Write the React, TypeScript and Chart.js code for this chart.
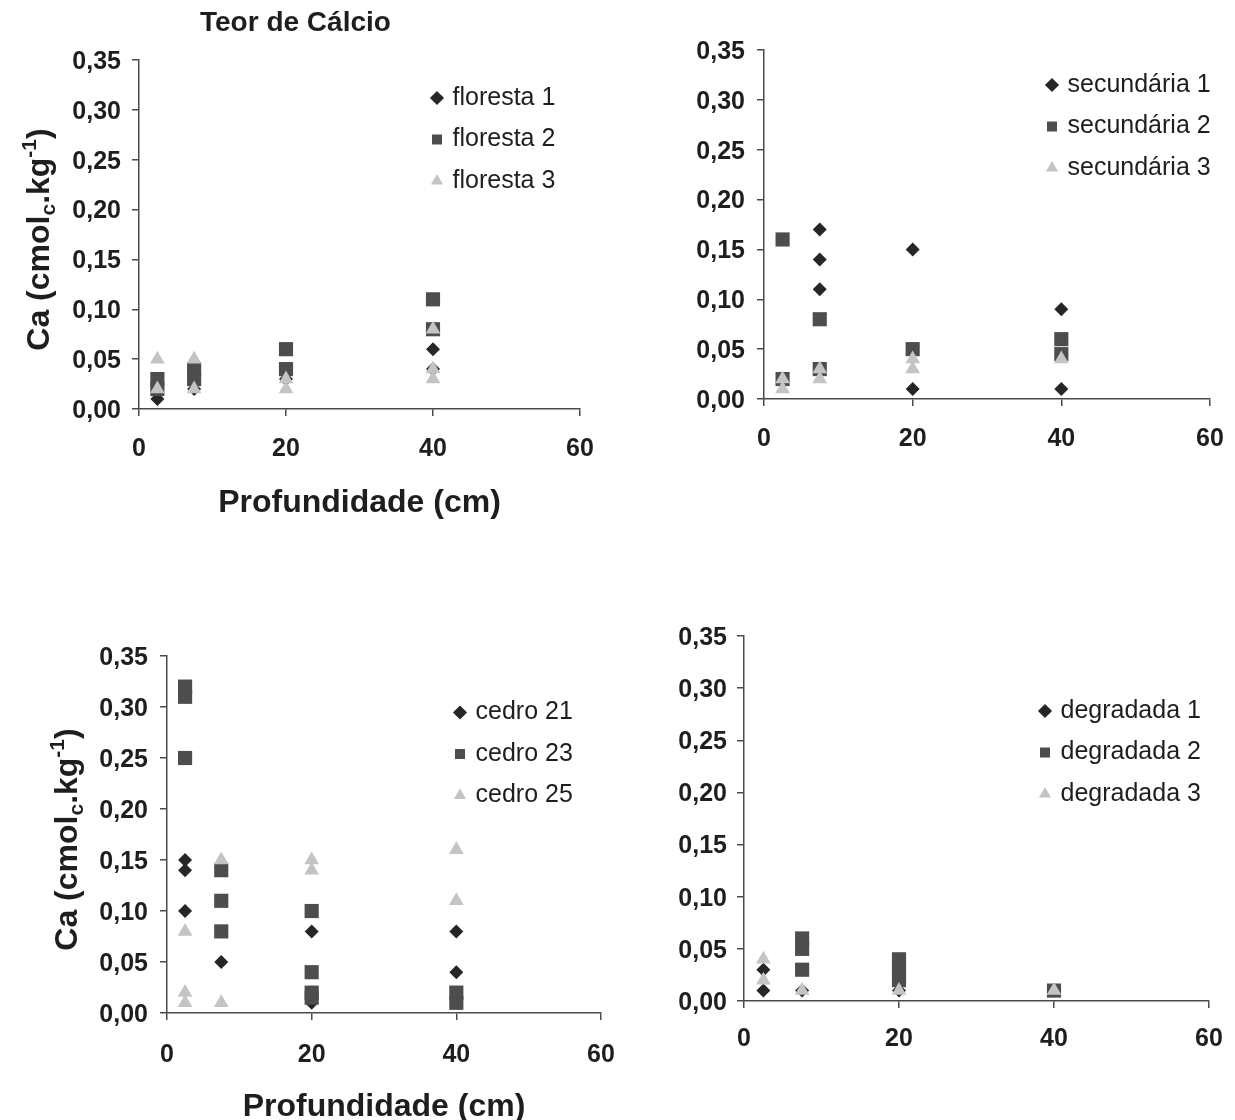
import { useEffect, useRef } from 'react';
import { Chart, registerables } from 'chart.js';

Chart.register(...registerables);

const FONT = "'Liberation Sans', Arial, Helvetica, sans-serif";
const TEXT_COLOR = '#1e1e1e';
const AXIS_COLOR = '#4a4a4a';

// ---------- axes / tick labels ----------
const yMin = 0;
const yMax = 0.35;
const yStep = 0.05;
const xMin = 0;
const xMax = 60;
const xStep = 20;
const xAxisTitle = 'Profundidade (cm)';
const chartTitle = 'Teor de Cálcio';

// ---------- panel 1: floresta ----------
const florestaLabels = ['floresta 1', 'floresta 2', 'floresta 3'];
const floresta1Depth = [2.5, 7.5, 20, 40, 40];
const floresta1Ca = [0.01, 0.02, 0.03, 0.06, 0.04];
const floresta2Depth = [2.5, 2.5, 7.5, 7.5, 20, 20, 40, 40];
const floresta2Ca = [0.03, 0.02, 0.04, 0.03, 0.06, 0.04, 0.11, 0.08];
const floresta3Depth = [2.5, 2.5, 7.5, 7.5, 20, 20, 40, 40, 40];
const floresta3Ca = [0.05, 0.02, 0.05, 0.02, 0.03, 0.02, 0.08, 0.04, 0.03];

// ---------- panel 2: secundária ----------
const secundariaLabels = ['secundária 1', 'secundária 2', 'secundária 3'];
const secundaria1Depth = [7.5, 7.5, 7.5, 20, 20, 40, 40];
const secundaria1Ca = [0.17, 0.14, 0.11, 0.15, 0.01, 0.09, 0.01];
const secundaria2Depth = [2.5, 2.5, 7.5, 7.5, 20, 40, 40];
const secundaria2Ca = [0.16, 0.02, 0.08, 0.03, 0.05, 0.06, 0.045];
const secundaria3Depth = [2.5, 2.5, 7.5, 7.5, 20, 20, 40];
const secundaria3Ca = [0.02, 0.01, 0.03, 0.02, 0.04, 0.03, 0.04];

// ---------- panel 3: cedro ----------
const cedroLabels = ['cedro 21', 'cedro 23', 'cedro 25'];
const cedro21Depth = [2.5, 2.5, 2.5, 7.5, 20, 20, 40, 40];
const cedro21Ca = [0.15, 0.14, 0.1, 0.05, 0.08, 0.01, 0.08, 0.04];
const cedro23Depth = [2.5, 2.5, 2.5, 7.5, 7.5, 7.5, 20, 20, 20, 20, 40, 40];
const cedro23Ca = [0.32, 0.31, 0.25, 0.14, 0.11, 0.08, 0.1, 0.04, 0.02, 0.015, 0.02, 0.01];
const cedro25Depth = [2.5, 2.5, 2.5, 7.5, 7.5, 20, 20, 40, 40];
const cedro25Ca = [0.08, 0.02, 0.01, 0.15, 0.01, 0.15, 0.14, 0.16, 0.11];

// ---------- panel 4: degradada ----------
const degradadaLabels = ['degradada 1', 'degradada 2', 'degradada 3'];
const degradada1Depth = [2.5, 2.5, 7.5, 20, 40];
const degradada1Ca = [0.03, 0.01, 0.01, 0.01, 0.01];
const degradada2Depth = [7.5, 7.5, 7.5, 20, 20, 20, 40];
const degradada2Ca = [0.06, 0.05, 0.03, 0.04, 0.03, 0.02, 0.01];
const degradada3Depth = [2.5, 2.5, 7.5, 20, 40];
const degradada3Ca = [0.04, 0.02, 0.01, 0.01, 0.01];

// ---------- marker styles (series 1, 2, 3) ----------
const MARKERS = [
  { style: 'rectRot', radius: 7, fill: '#262626' },
  { style: 'rect', radius: 10, fill: '#4d4d4d' },
  { style: 'triangle', radius: 8.5, fill: '#c4c4c4' },
];

type Series = { label: string; x: number[]; y: number[] };
type Spec = {
  left: number; top: number; w: number; h: number;
  pad: { left: number; top: number; right: number; bottom: number };
  yW: number; xH: number; xTickPad: number; yTickPad: number;
  legend: { x: number; y: number };
  xTitle: boolean; xTitlePad: number; yTitle: boolean; title: boolean;
  series: Series[];
};

const mk = (labels: string[], xs: number[][], ys: number[][]): Series[] =>
  labels.map((label, i) => ({ label, x: xs[i], y: ys[i] }));

const PANELS: Spec[] = [
  {
    left: 0, top: 0, w: 617, h: 560,
    pad: { left: 0, top: 60, right: 37, bottom: 31 },
    yW: 139, xH: 120, xTickPad: 18, yTickPad: 11,
    legend: { x: 437, y: 98 },
    xTitle: true, xTitlePad: 13, yTitle: true, title: true,
    series: mk(florestaLabels, [floresta1Depth, floresta2Depth, floresta3Depth], [floresta1Ca, floresta2Ca, floresta3Ca]),
  },
  {
    left: 617, top: 0, w: 618, h: 560,
    pad: { left: 0, top: 50, right: 25, bottom: 101 },
    yW: 147, xH: 60, xTickPad: 18, yTickPad: 12,
    legend: { x: 435, y: 85 },
    xTitle: false, xTitlePad: 0, yTitle: false, title: false,
    series: mk(secundariaLabels, [secundaria1Depth, secundaria2Depth, secundaria3Depth], [secundaria1Ca, secundaria2Ca, secundaria3Ca]),
  },
  {
    left: 0, top: 560, w: 617, h: 560,
    pad: { left: 0, top: 96, right: 16, bottom: 0 },
    yW: 167, xH: 107, xTickPad: 20, yTickPad: 12,
    legend: { x: 460, y: 152.5 },
    xTitle: true, xTitlePad: 0, yTitle: true, title: false,
    series: mk(cedroLabels, [cedro21Depth, cedro23Depth, cedro25Depth], [cedro21Ca, cedro23Ca, cedro25Ca]),
  },
  {
    left: 617, top: 560, w: 618, h: 560,
    pad: { left: 0, top: 76, right: 26, bottom: 59 },
    yW: 127, xH: 60, xTickPad: 16, yTickPad: 10,
    legend: { x: 428, y: 151 },
    xTitle: false, xTitlePad: 0, yTitle: false, title: false,
    series: mk(degradadaLabels, [degradada1Depth, degradada2Depth, degradada3Depth], [degradada1Ca, degradada2Ca, degradada3Ca]),
  },
];

const LEGEND_FONT = 25;
const LEGEND_BOX_W = 6;
const LEGEND_BOX_H = 10;
const LEGEND_PAD = 16.5;

function drawYTitle(ctx: CanvasRenderingContext2D, cx: number, cy: number) {
  const big = `bold 32px ${FONT}`;
  const small = `bold 21px ${FONT}`;
  const parts = [
    { t: 'Ca (cmol', f: big, dy: 0 },
    { t: 'c', f: small, dy: 6 },
    { t: '.kg', f: big, dy: 0 },
    { t: '-1', f: small, dy: -13 },
    { t: ')', f: big, dy: 0 },
  ];
  ctx.save();
  let total = 0;
  const widths = parts.map((p) => {
    ctx.font = p.f;
    const w = ctx.measureText(p.t).width;
    total += w;
    return w;
  });
  ctx.translate(cx, cy);
  ctx.rotate(-Math.PI / 2);
  ctx.fillStyle = TEXT_COLOR;
  ctx.textBaseline = 'alphabetic';
  ctx.textAlign = 'left';
  let x = -total / 2;
  parts.forEach((p, i) => {
    ctx.font = p.f;
    ctx.fillText(p.t, x, 11 + p.dy);
    x += widths[i];
  });
  ctx.restore();
}

function buildConfig(spec: Spec): any {
  const datasets = spec.series.map((s, i) => ({
    label: s.label,
    data: s.x.map((x, j) => ({ x, y: s.y[j] })),
    pointStyle: MARKERS[i].style,
    pointRadius: MARKERS[i].radius,
    pointHoverRadius: MARKERS[i].radius,
    backgroundColor: MARKERS[i].fill,
    borderColor: MARKERS[i].fill,
    borderWidth: 0,
    showLine: false,
    order: 3 - i,
  }));

  const tickFont = { family: FONT, size: 25, weight: 'bold' as const };
  const gridOpts = {
    display: true,
    drawOnChartArea: false,
    drawTicks: true,
    tickLength: 7,
    color: AXIS_COLOR,
    lineWidth: 1.5,
  };

  const decor = {
    id: 'decor',
    afterLayout(chart: any) {
      const lg = chart.legend;
      if (lg) {
        lg.left = spec.legend.x - LEGEND_BOX_W / 2 - LEGEND_PAD;
        lg.top = spec.legend.y - LEGEND_PAD - LEGEND_FONT / 2;
        lg.right = chart.width;
        lg.bottom = chart.height;
        lg.width = lg.right - lg.left;
        lg.height = lg.bottom - lg.top;
      }
    },
    afterDraw(chart: any) {
      const ctx: CanvasRenderingContext2D = chart.ctx;
      const area = chart.chartArea;
      if (spec.title) {
        ctx.save();
        ctx.font = `bold 28px ${FONT}`;
        ctx.fillStyle = TEXT_COLOR;
        ctx.textAlign = 'left';
        ctx.textBaseline = 'middle';
        ctx.fillText(chartTitle, area.left + 61, 23);
        ctx.restore();
      }
      if (spec.yTitle) {
        drawYTitle(ctx, area.left - 101, (area.top + area.bottom) / 2 + 5);
      }
    },
  };

  return {
    type: 'scatter',
    data: { datasets },
    options: {
      animation: false,
      responsive: false,
      devicePixelRatio: 1,
      events: [],
      layout: { padding: spec.pad },
      plugins: {
        legend: {
          display: true,
          position: 'chartArea',
          align: 'start',
          labels: {
            usePointStyle: true,
            boxWidth: LEGEND_BOX_W,
            boxHeight: LEGEND_BOX_H,
            padding: LEGEND_PAD,
            color: TEXT_COLOR,
            font: { family: FONT, size: LEGEND_FONT },
            sort: (a: any, b: any) => a.datasetIndex - b.datasetIndex,
          },
        },
        title: { display: false },
        tooltip: { enabled: false },
      },
      scales: {
        x: {
          type: 'linear',
          position: 'bottom',
          min: xMin,
          max: xMax,
          ticks: {
            stepSize: xStep,
            font: tickFont,
            color: TEXT_COLOR,
            padding: spec.xTickPad,
            maxRotation: 0,
            autoSkip: false,
          },
          grid: gridOpts,
          border: { display: true, color: AXIS_COLOR, width: 1.5 },
          title: {
            display: spec.xTitle,
            text: xAxisTitle,
            color: TEXT_COLOR,
            font: { family: FONT, size: 32, weight: 'bold', lineHeight: 0.8 },
            padding: { top: 0, bottom: spec.xTitlePad },
          },
          afterFit: (s: any) => {
            s.height = spec.xH;
            s.paddingLeft = 0;
            s.paddingRight = 0;
          },
        },
        y: {
          type: 'linear',
          position: 'left',
          min: yMin,
          max: yMax,
          ticks: {
            stepSize: yStep,
            font: tickFont,
            color: TEXT_COLOR,
            padding: spec.yTickPad,
            labelOffset: 2,
            autoSkip: false,
            callback: (v: any) => Number(v).toFixed(2).replace('.', ','),
          },
          grid: gridOpts,
          border: { display: true, color: AXIS_COLOR, width: 1.5 },
          afterFit: (s: any) => {
            s.width = spec.yW;
            s.paddingTop = 0;
            s.paddingBottom = 0;
          },
        },
      },
    },
    plugins: [decor],
  };
}

function Panel({ spec }: { spec: Spec }) {
  const ref = useRef<HTMLCanvasElement>(null);
  useEffect(() => {
    const chart = new Chart(ref.current as HTMLCanvasElement, buildConfig(spec));
    return () => chart.destroy();
  }, [spec]);
  return (
    <canvas
      ref={ref}
      width={spec.w}
      height={spec.h}
      style={{ position: 'absolute', left: spec.left, top: spec.top, width: spec.w, height: spec.h }}
    />
  );
}

export default function App() {
  return (
    <div
      style={{
        position: 'absolute',
        left: 0,
        top: 0,
        width: 1235,
        height: 1120,
        overflow: 'hidden',
        background: '#ffffff',
      }}
    >
      {PANELS.map((p, i) => (
        <Panel key={i} spec={p} />
      ))}
    </div>
  );
}
